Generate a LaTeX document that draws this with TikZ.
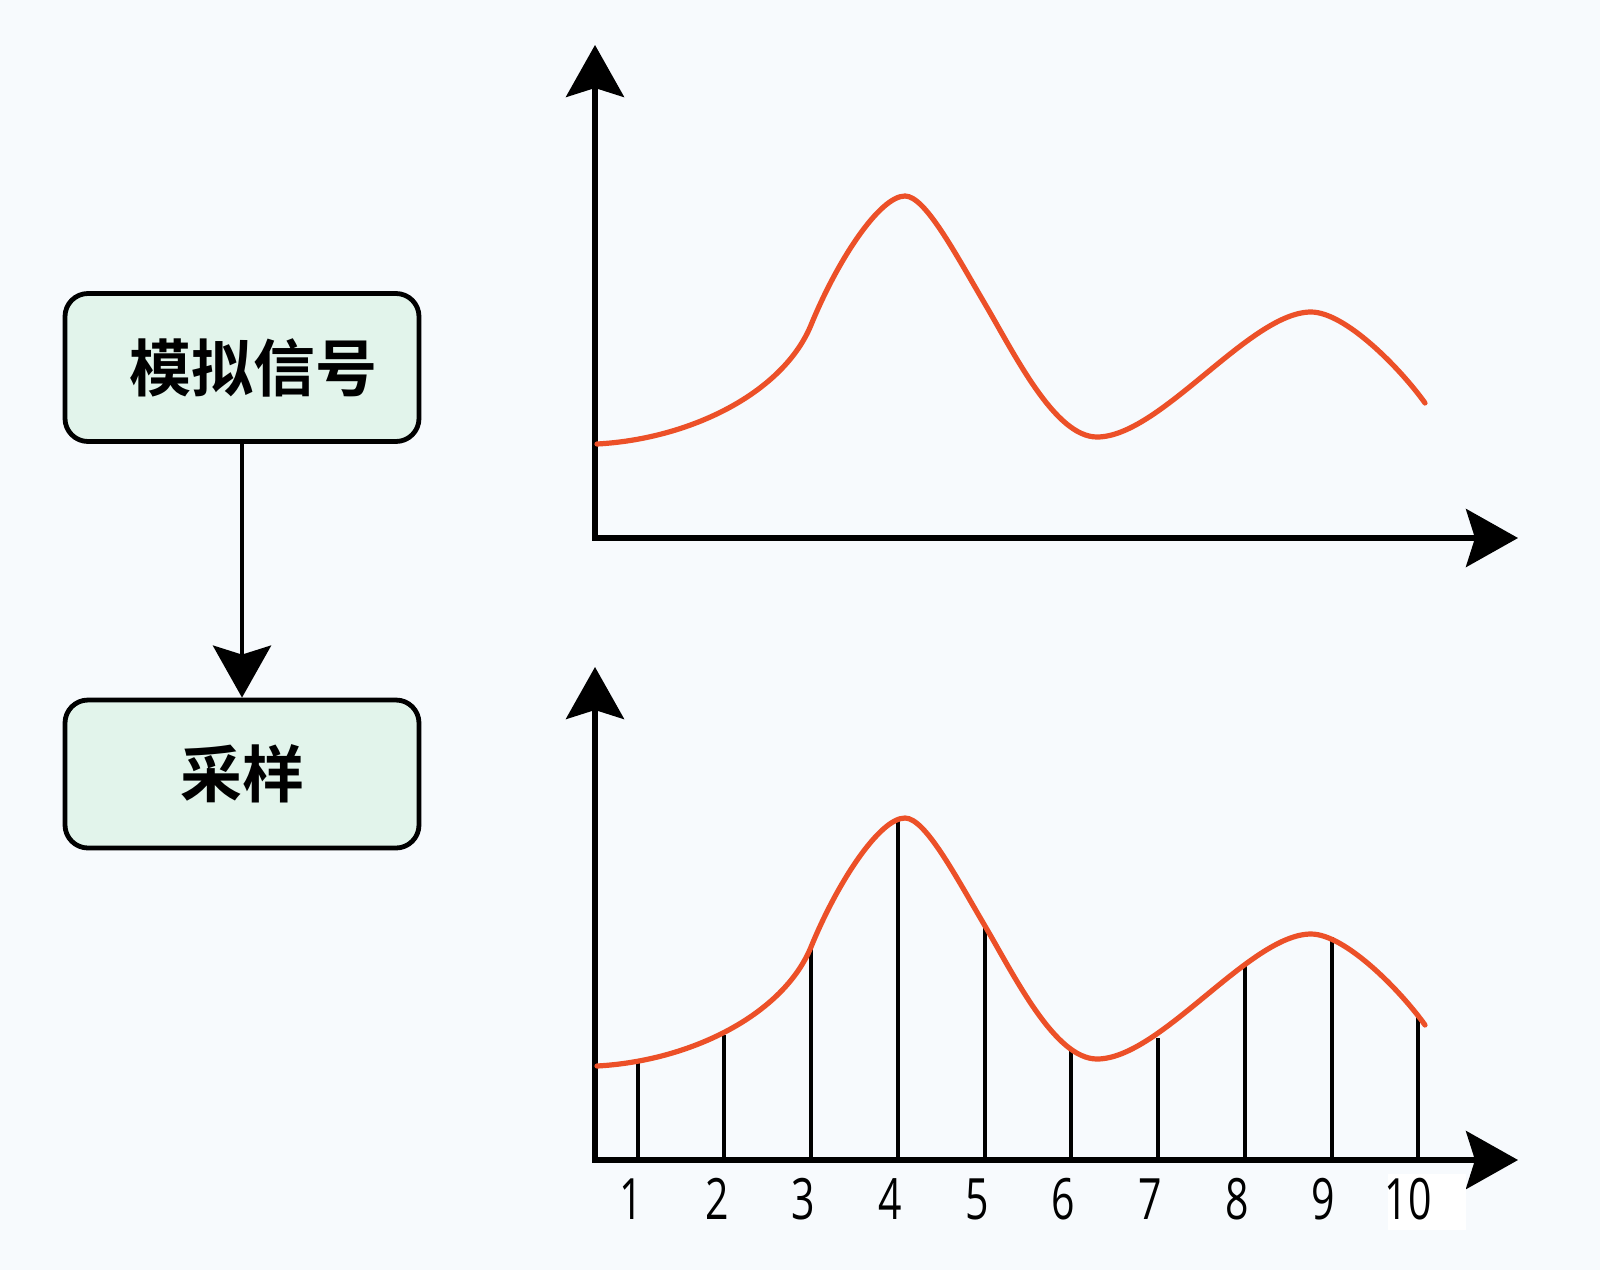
\documentclass[tikz,border=0pt]{standalone}
\usepackage{fontspec}
\newfontfamily\cjk{Noto Sans CJK SC}[UprightFont={Noto Sans CJK SC Bold}]
\newfontfamily\digitfont[FakeStretch=0.72]{Open Sans}
\usetikzlibrary{arrows.meta}
\definecolor{bg}{HTML}{F7FAFD}
\definecolor{boxfill}{HTML}{E2F4EB}
\definecolor{sigcol}{HTML}{EC5028}
\begin{document}
\begin{tikzpicture}[x=0.5pt,y=-0.5pt,
  box/.style={draw=black, line width=2.4pt, fill=boxfill, rounded corners=11.5pt,
    minimum width=177pt, minimum height=74pt, inner sep=0pt,
    font=\cjk\fontsize{31pt}{36pt}\selectfont},
  tip/.tip={Stealth[length=26pt,width=29pt,inset=4.5pt]},
  axisline/.style={line width=2.6pt, black, tip-tip},
  flowarrow/.style={line width=2.4pt, black, -tip},
  sampleline/.style={line width=2.4pt, black},
  signal/.style={line width=2.6pt, sigcol, line cap=round},
  num/.style={font=\digitfont\fontsize{28.5pt}{30pt}\selectfont, inner sep=0pt}
]
\def\sigcurve{(597,1066) .. controls (690,1061) and (783,1015) .. (811,947)
  .. controls (838,881) and (880,818) .. (905,818)
  .. controls (925,818) and (955,875) .. (985,926)
  .. controls (1015,977) and (1055,1059) .. (1097,1059)
  .. controls (1160,1059) and (1250,934) .. (1311,934)
  .. controls (1345,934) and (1400,990) .. (1425,1025)}
% background / bounding box
\fill[bg] (0,0) rectangle (1600,1270);
\useasboundingbox (0,0) rectangle (1600,1270);

% flow boxes
\node[box] (b1) at (242,367.5) {\hspace*{11pt}模拟信号};
\node[box] (b2) at (242,774) {采样};
\draw[flowarrow] (b1) -- (b2);

% upper axes
\coordinate (uy) at (595,45);
\coordinate (ux) at (1518,538);
\draw[axisline] (uy) |- (ux);
\begin{scope}[shift={(0,-622)}]
  \draw[signal] \sigcurve;
\end{scope}

% lower axes
\coordinate (ly) at (595,667);
\coordinate (lx) at (1518,1160);
\foreach \x/\y in {638/1062,724/1035,811/947,898/820,985/926,1071/1050,1158/1038,1245/964,1332/937,1418/1015}
  \draw[sampleline] (\x,1160) -- (\x,\y);
\draw[axisline] (ly) |- (lx);
\draw[signal] \sigcurve;

% white patch near last label
\fill[white] (1388,1174) rectangle (1466,1230);

% labels
\foreach \x/\t in {631/1,717/2,803/3,890/4,977/5,1063/6,1150/7,1237/8,1323/9,1408/10}
  \node[num] (n\t) at (\x,1199) {\t};
\end{tikzpicture}
\end{document}
